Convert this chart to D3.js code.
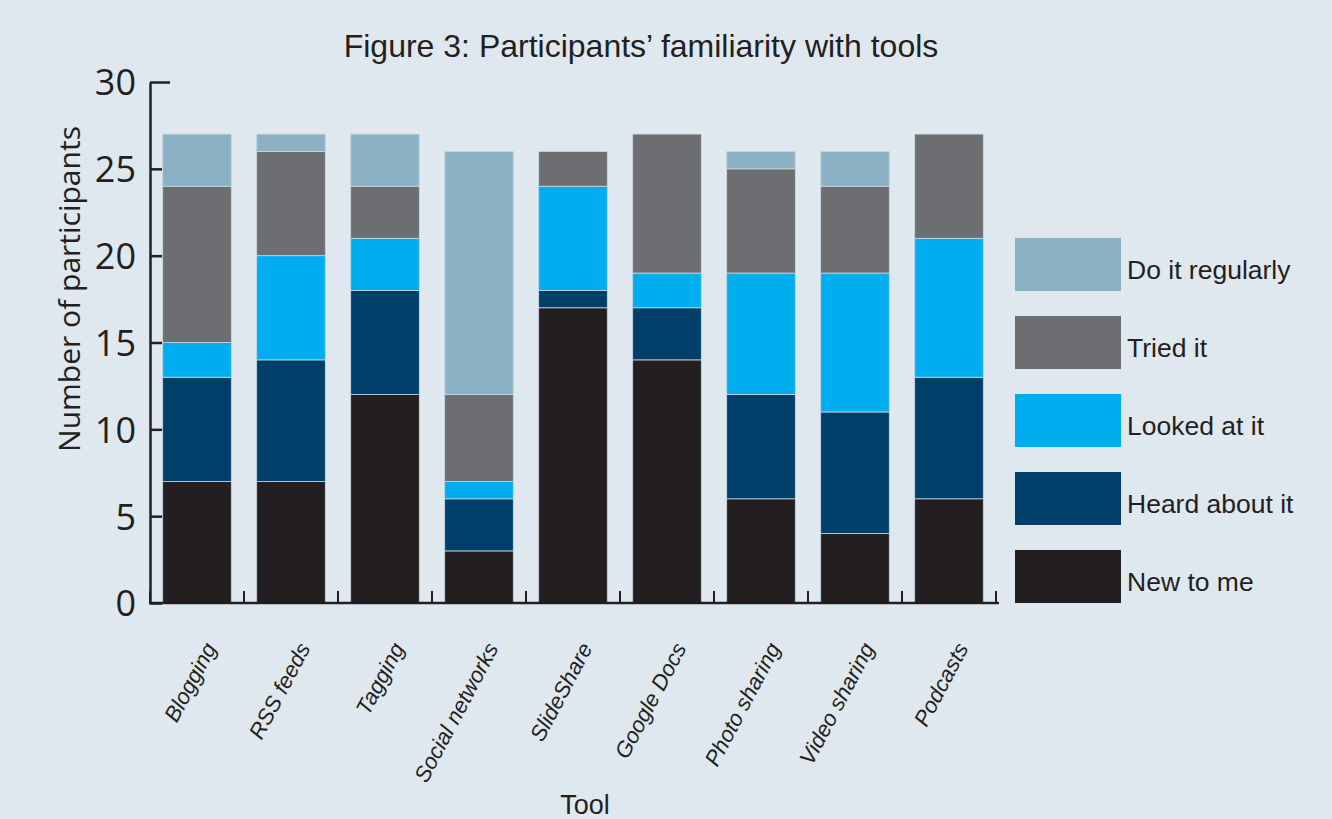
<!DOCTYPE html>
<html>
<head>
<meta charset="utf-8">
<script src="https://cdn.jsdelivr.net/npm/d3@7"></script>
<style>
  html, body { margin: 0; padding: 0; background: #dfe8ee; }
  svg { display: block; }
</style>
</head>
<body>
<svg id="chart" width="1332" height="819"></svg>
<script>
const categories = ["Blogging", "RSS feeds", "Tagging", "Social networks", "SlideShare", "Google Docs", "Photo sharing", "Video sharing", "Podcasts"];
const seriesNames = ["New to me", "Heard about it", "Looked at it", "Tried it", "Do it regularly"];
const newToMe     = [7, 7, 12, 3, 17, 14, 6, 4, 6];
const heardAbout  = [6, 7, 6, 3, 1, 3, 6, 7, 7];
const lookedAt    = [2, 6, 3, 1, 6, 2, 7, 8, 8];
const triedIt     = [9, 6, 3, 5, 2, 8, 6, 5, 6];
const doRegularly = [3, 1, 3, 14, 0, 0, 1, 2, 0];
const yTicks = [0, 5, 10, 15, 20, 25, 30];
const colors = ["#231f20", "#003f69", "#00aeef", "#6d6e71", "#8db1c4"];

const seriesValues = [newToMe, heardAbout, lookedAt, triedIt, doRegularly];
const rows = categories.map((c, i) => {
  const r = { tool: c };
  seriesNames.forEach((s, j) => r[s] = seriesValues[j][i]);
  return r;
});
const stacked = d3.stack().keys(seriesNames)(rows);

const svg = d3.select("#chart");
const x = d3.scaleBand().domain(categories).range([150, 996]).paddingInner(0.27).paddingOuter(0.135);
const y = d3.scaleLinear().domain([0, 30]).range([603, 82]);
const color = d3.scaleOrdinal().domain(seriesNames).range(colors);
const ink = "#231f20";

// title
svg.append("text").attr("x", 641).attr("y", 57).attr("text-anchor", "middle")
  .attr("font-family", "Liberation Sans, Arial, sans-serif").attr("font-size", 32).attr("fill", ink)
  .text("Figure 3: Participants’ familiarity with tools");

// bars
svg.append("g").selectAll("g").data(stacked).join("g")
  .attr("fill", d => color(d.key))
  .selectAll("rect").data(d => d.filter(p => p[1] > p[0])).join("rect")
  .attr("x", d => x(d.data.tool))
  .attr("width", x.bandwidth())
  .attr("y", d => y(d[1]))
  .attr("height", d => y(d[0]) - y(d[1]))
  .attr("stroke", "#c8d7e0").attr("stroke-width", 0.8);

// y axis
const yAxis = svg.append("g").attr("transform", "translate(150,0)")
  .call(d3.axisLeft(y).tickValues(yTicks).tickSize(-12).tickPadding(14).tickSizeOuter(0));
yAxis.select(".domain").attr("stroke", ink).attr("stroke-width", 2.5);
yAxis.selectAll(".tick line").attr("stroke", ink).attr("stroke-width", 2.5)
  .attr("x2", d => d === 30 ? 20 : 12);
yAxis.selectAll(".tick text").attr("font-family", "Open Sans, sans-serif").attr("font-size", 36)
  .attr("fill", ink).attr("dy", "0.36em");

// x axis baseline and boundary ticks
const xAxis = svg.append("g").attr("transform", "translate(0,603)");
xAxis.append("line").attr("x1", 149).attr("x2", 999).attr("y1", 0).attr("y2", 0)
  .attr("stroke", ink).attr("stroke-width", 2.5);
const bounds = d3.range(categories.length + 1).map(i => x.range()[0] + i * x.step());
xAxis.selectAll("line.b").data(bounds).join("line").attr("class", "b")
  .attr("x1", d => d).attr("x2", d => d).attr("y1", 0).attr("y2", -12)
  .attr("stroke", ink).attr("stroke-width", 2);

// x tick labels
svg.append("g").selectAll("text").data(categories).join("text")
  .attr("transform", d => `translate(${x(d) + x.bandwidth() / 2 + 20},648) rotate(-62)`)
  .attr("text-anchor", "end")
  .attr("font-family", "Liberation Sans, Arial, sans-serif").attr("font-style", "italic")
  .attr("font-size", 22).attr("fill", ink)
  .text(d => d);

// axis titles
svg.append("text").attr("transform", "translate(80,289) rotate(-90)").attr("text-anchor", "middle")
  .attr("font-family", "Open Sans, sans-serif").attr("font-size", 30).attr("fill", ink)
  .text("Number of participants");
svg.append("text").attr("x", 585).attr("y", 814).attr("text-anchor", "middle")
  .attr("font-family", "Liberation Sans Narrow, Liberation Sans, Arial, sans-serif").attr("font-size", 27)
  .attr("fill", ink).text("Tool");

// legend
const legendOrder = seriesNames.slice().reverse();
const lg = svg.append("g").selectAll("g").data(legendOrder).join("g")
  .attr("transform", (d, i) => `translate(1015,${238 + i * 78})`);
lg.append("rect").attr("width", 106).attr("height", 53).attr("fill", d => color(d));
lg.append("text").attr("x", 112).attr("y", 41)
  .attr("font-family", "Liberation Sans, Arial, sans-serif").attr("font-size", 26.5).attr("fill", ink)
  .text(d => d);
</script>
</body>
</html>
